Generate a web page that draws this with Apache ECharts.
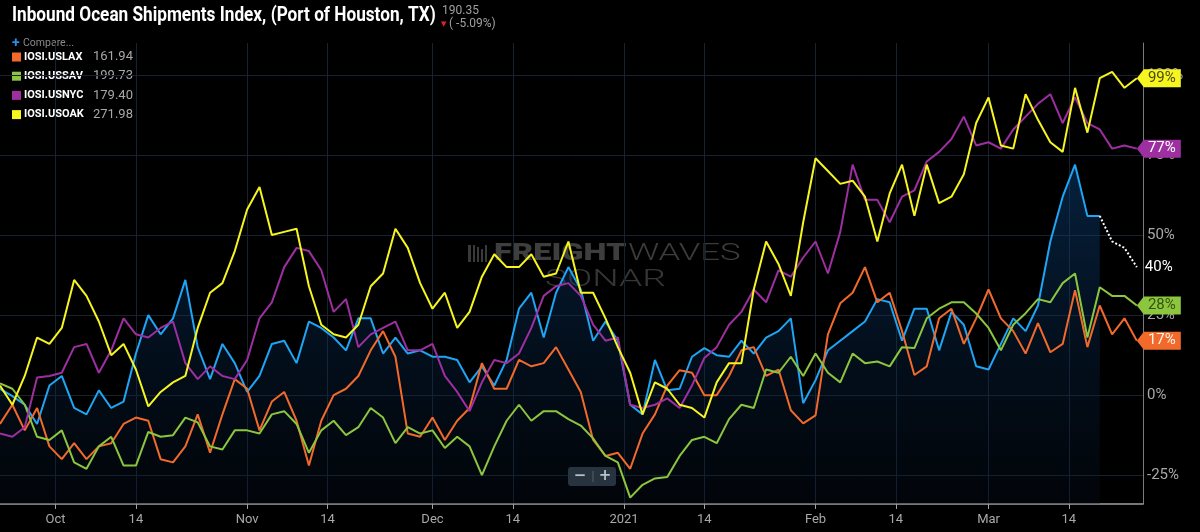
<!DOCTYPE html>
<html>
<head>
<meta charset="utf-8">
<title>Inbound Ocean Shipments Index (Port of Houston, TX)</title>
<script src="https://cdn.jsdelivr.net/npm/echarts@6/dist/echarts.min.js"></script>
<style>
  html, body { margin: 0; background: #000; }
  #main { width: 1200px; height: 532px; }
</style>
</head>
<body>
<div id="main"></div>
<script>
    // axis runs day by day from Sep 22 2020 to Mar 26 2021
    var startDate = Date.UTC(2020, 8, 22);
    var dayCount = 186;
    var sampleStep = 2;

    // % change, Port of Houston (solid part ends Mar 19)
    var houston = [
        2, -0.3, -3, -9, 3, 6, -4, -6, 1.5, -4,
        -2, 13, 25, 19, 24, 36, 15, 5, 16, 10,
        1, 6, 16, 17, 10, 23, 21, 18, 14, 24,
        24, 13, 18, 13, 14, 12, 12, 11, 4, 9,
        3, 11, 27, 32, 18, 32, 40, 33, 17, 23,
        17, -3, -6, 11, 1.5, 2, 12, 14.7, 12.5, 12,
        17, 13, 18, 20, 24, -2.5, 4.7, 14, 17, 20,
        23, 30, 29, 17, 27, 27, 14, 26, 22, 9,
        8, 16, 24, 20, 28, 48, 62, 72, 56, 56
    ];
    // dotted tail from Mar 19 to Mar 25
    var houstonTail = [56, 48, 46, 40];

    var lax = [
        -9, -3, -11, -4, -16, -20, -15, -20, -16, -15,
        -9, -7, -8, -20, -21, -16, -6, -18, -6, 5,
        2, -11, -2, 1, -8, -22, -8, 0, 2, 6,
        14, 20, 12, -12, -13, -7, -14, -8, -4, 10,
        2, 2, 11, 9, 10, 15, 8, 1, -14, -19,
        -18, -23, -12, -6, 3, 7.8, 7, 0, 0, 6,
        14, 15, 6, 8, -4.7, -8.8, -6.3, 19, 28.7, 32,
        40, 29, 32, 20, 6.3, 9, 24, 27, 16, 24,
        33, 24, 20, 13, 22.5, 13.4, 16, 32.8, 15, 28,
        19, 24, 17
    ];
    var sav = [
        3.7, 2, -3, -13, -14, -11, -21, -23, -16, -13,
        -22, -22, -11.5, -13, -12.5, -7, -8.5, -16, -17, -11,
        -11, -12, -6, -5, -9, -18, -11, -8, -12.5, -10,
        -4, -7, -15, -10, -12, -11, -16.5, -13, -16, -25,
        -16, -8, -3, -8, -5, -5, -7.5, -9.5, -13.5, -19,
        -21, -32, -28, -26, -25.6, -19, -14, -13, -15, -7.5,
        -3, -4, 8, 7, 12, 6, 13, 7, 4, 13,
        10, 10.5, 9, 15, 14.7, 24, 27, 29, 29, 25.5,
        21, 14, 22, 25.6, 30, 29, 35, 38, 18, 33.7,
        31, 31, 28
    ];
    var nyc = [
        -12, -13, -10, 5.5, 6, 7, 15, 16, 7, 14,
        24, 19, 18, 21, 23, 10, 5, 9, 6, 5,
        11, 24, 29, 40, 46, 45, 39, 26, 30, 15,
        19, 21, 23, 14, 14, 16, 6, 1, -5, 4,
        11, 10, 13, 21, 31, 34, 35, 31, 22, 17,
        18, -3, -4, -3, -1, -4, 3, 11.6, 15, 22,
        26, 33, 29, 39, 37, 43, 48, 38, 51, 72,
        61, 61, 54, 62, 64, 73, 76, 80, 87, 78,
        79, 77, 83, 87, 91, 94, 85, 93, 85, 83,
        77, 78, 77
    ];
    var oak = [
        3, -3, 6, 18, 16, 21, 36, 31, 23, 12.5,
        16, 8, -3.5, 1, 4, 6, 21, 32, 35, 45,
        58, 65, 50, 51, 52, 34, 22, 19, 18, 22,
        34, 38, 52, 46, 35, 27, 32, 21, 26, 37,
        44, 40, 40, 44, 37, 38, 48, 32, 32, 24,
        15, 7, -6, 4, 2, -3, -4, -7, 4, 10,
        10, 33, 48, 41, 31, 54, 74, 70, 66, 67,
        62, 48, 63, 72, 56, 72, 60, 62, 69, 85,
        93, 78, 77, 94, 86, 79, 76, 96, 82, 99,
        101, 96, 99
    ];

    var legendNames = ['IOSI.USLAX', 'IOSI.USSAV', 'IOSI.USNYC', 'IOSI.USOAK'];
    var legendValues = ['161.94', '199.73', '179.40', '271.98'];
    var lastPrice = '190.35';
    var lastChange = '( -5.09%)';
    var monthLabels = ['2021', 'Feb', 'Mar', 'Apr', 'May', 'Jun', 'Jul', 'Aug', 'Sep', 'Oct', 'Nov', 'Dec'];

    var colors = {
        houston: '#1ea5f4',
        lax: '#f26a2b',
        sav: '#8cc63f',
        nyc: '#9d2fa1',
        oak: '#f6f51f'
    };

    // category list, one per day
    var dates = [];
    for (var i = 0; i < dayCount; i++) {
        dates.push(new Date(startDate + i * 86400000).toISOString().slice(0, 10));
    }

    function pairs(values, firstIndex) {
        return values.map(function (v, k) { return [firstIndex + k * sampleStep, v]; });
    }
    function dayOf(value) { return parseInt(value.slice(8, 10), 10); }
    function isTick(index, value) { var d = dayOf(value); return d === 1 || d === 14; }
    function tickLabel(value) {
        if (dayOf(value) === 14) return '14';
        return monthLabels[parseInt(value.slice(5, 7), 10) - 1];
    }

    var tailStart = (houston.length - 1) * sampleStep;

    function comparison(name, values, color, tagText) {
        var data = pairs(values, 0);
        var last = data[data.length - 1];
        return {
            name: name,
            type: 'line',
            data: data,
            showSymbol: false,
            clip: false,
            lineStyle: { color: color, width: 2 },
            itemStyle: { color: color },
            z: 3,
            markPoint: {
                symbol: 'path://M0,9 L7,0 L44,0 L44,18 L7,18 Z',
                symbolSize: [44, 18],
                symbolOffset: [22, 0],
                itemStyle: { color: color },
                label: {
                    show: true,
                    position: 'inside',
                    offset: [3, 0],
                    color: tagText,
                    fontSize: 15,
                    fontFamily: 'Roboto',
                    formatter: function (p) { return Math.round(p.value) + '%'; }
                },
                data: [{ coord: [last[0], last[1]], value: last[1] }]
            }
        };
    }

    var myChart = echarts.init(document.getElementById('main'));

    var legendGraphics = [];
    legendNames.forEach(function (n, k) {
        var y = 57 + k * 19.2;
        var c = [colors.lax, colors.sav, colors.nyc, colors.oak][k];
        legendGraphics.push(
            { type: 'rect', shape: { x: 12, y: y - 4.5, width: 9, height: 9 }, style: { fill: c } },
            { type: 'text', x: 24, y: y, style: { text: n, fill: '#fff', fontSize: 11, fontWeight: 'bold', fontFamily: 'Roboto', verticalAlign: 'middle' } },
            { type: 'text', x: 93, y: y, style: { text: legendValues[k], fill: '#a8a8a8', fontSize: 13, fontFamily: 'Roboto', verticalAlign: 'middle' } }
        );
    });

    myChart.setOption({
        backgroundColor: '#000',
        animation: false,
        grid: { left: -3, right: 57, top: 43, bottom: 28 },
        xAxis: {
            type: 'category',
            data: dates,
            boundaryGap: false,
            axisLine: { onZero: false, lineStyle: { color: '#a0a0a0', width: 1.5 } },
            axisTick: { show: true, interval: isTick, length: 5, lineStyle: { color: '#a0a0a0' } },
            axisLabel: { interval: isTick, formatter: tickLabel, color: '#a8a8a8', fontSize: 13, fontFamily: 'Roboto', margin: 9 },
            splitLine: { show: true, interval: isTick, lineStyle: { color: '#17222e', width: 1 } }
        },
        yAxis: {
            type: 'value',
            position: 'right',
            min: -34,
            max: 110,
            minInterval: 25,
            maxInterval: 25,
            axisLine: { show: true, lineStyle: { color: '#7a7a7a' } },
            axisTick: { show: false },
            axisLabel: {
                color: '#a8a8a8', fontSize: 15, fontFamily: 'Roboto', margin: 4,
                showMinLabel: false, showMaxLabel: false,
                formatter: function (v) { return v + '%'; }
            },
            splitLine: { show: true, showMinLine: false, showMaxLine: false, lineStyle: { color: '#17222e' } }
        },
        graphic: [
            { type: 'text', x: 12, y: 16, scaleX: 0.86, style: { text: 'Inbound Ocean Shipments Index, (Port of Houston, TX)', fill: '#fff', fontSize: 20, fontWeight: 'bold', fontFamily: 'Roboto', verticalAlign: 'middle' } },
            { type: 'text', x: 442, y: 11, style: { text: lastPrice, fill: '#a0a0a0', fontSize: 12, fontFamily: 'Roboto', verticalAlign: 'middle' } },
            { type: 'text', x: 441, y: 24, style: { text: '▼', fill: '#e8202a', fontSize: 7, fontFamily: 'DejaVu Sans', verticalAlign: 'middle' } },
            { type: 'text', x: 449, y: 24, style: { text: lastChange, fill: '#a0a0a0', fontSize: 12, fontFamily: 'Roboto', verticalAlign: 'middle' } },
            { type: 'text', x: 12, y: 43, style: { text: '+', fill: '#2b8ee6', fontSize: 14, fontWeight: 'bold', fontFamily: 'Roboto', verticalAlign: 'middle' } },
            { type: 'text', x: 23, y: 43, style: { text: 'Compare...', fill: '#8a8a8a', fontSize: 10.5, fontFamily: 'Roboto', verticalAlign: 'middle' } }
        ].concat(legendGraphics).concat([
            // watermark
            {
                type: 'group', z: 1, silent: true,
                children: [
                    { type: 'rect', shape: { x: 468, y: 245, width: 3, height: 17 }, style: { fill: '#3a3a3a' } },
                    { type: 'rect', shape: { x: 473, y: 245, width: 2, height: 17 }, style: { fill: '#3a3a3a' } },
                    { type: 'rect', shape: { x: 477, y: 247, width: 2, height: 15 }, style: { fill: '#3a3a3a' } },
                    { type: 'rect', shape: { x: 481, y: 249, width: 2, height: 13 }, style: { fill: '#3a3a3a' } },
                    { type: 'rect', shape: { x: 485, y: 245, width: 2, height: 17 }, style: { fill: '#3a3a3a' } },
                    { type: 'text', x: 494, y: 254, scaleX: 1.36, style: { text: 'FREIGHT', fill: '#3e3e3e', fontSize: 24, fontWeight: 900, fontFamily: 'Roboto', verticalAlign: 'middle' } },
                    { type: 'text', x: 628, y: 254, scaleX: 1.45, style: { text: 'WAVES', fill: '#3c3c3c', fontSize: 24, fontWeight: 300, fontFamily: 'Roboto', verticalAlign: 'middle' } },
                    { type: 'text', x: 545, y: 280, scaleX: 1.55, style: { text: 'SONAR', fill: '#363636', fontSize: 24, fontWeight: 300, fontFamily: 'Roboto', verticalAlign: 'middle' } }
                ]
            },
            // zoom buttons
            { type: 'rect', z: 10, shape: { x: 568, y: 467, width: 48, height: 19, r: 3 }, style: { fill: '#27333e' } },
            { type: 'line', z: 10, shape: { x1: 593, y1: 471, x2: 593, y2: 482 }, style: { stroke: '#55616c', lineWidth: 1 } },
            { type: 'text', z: 11, x: 580, y: 476, style: { text: '−', fill: '#b9c1c9', fontSize: 15, fontWeight: 'bold', fontFamily: 'DejaVu Sans', align: 'center', verticalAlign: 'middle' } },
            { type: 'text', z: 11, x: 605, y: 476, style: { text: '+', fill: '#b9c1c9', fontSize: 15, fontWeight: 'bold', fontFamily: 'DejaVu Sans', align: 'center', verticalAlign: 'middle' } }
        ]),
        series: [
            {
                name: 'IOSI.USHOU',
                type: 'line',
                data: pairs(houston, 0),
                showSymbol: false,
                lineStyle: { color: colors.houston, width: 2 },
                itemStyle: { color: colors.houston },
                areaStyle: {
                    origin: 'start',
                    color: new echarts.graphic.LinearGradient(0, 0, 0, 1, [
                        { offset: 0, color: 'rgba(14,78,145,0.6)' },
                        { offset: 1, color: 'rgba(6,20,40,0.35)' }
                    ])
                },
                z: 2
            },
            {
                name: 'IOSI.USHOU latest',
                type: 'line',
                data: pairs(houstonTail, tailStart),
                showSymbol: false,
                clip: false,
                lineStyle: { color: '#ffffff', width: 2, type: 'dotted' },
                endLabel: {
                    show: true,
                    distance: 8,
                    color: '#ffffff',
                    fontSize: 15,
                    fontFamily: 'Roboto',
                    formatter: function (p) { return Math.round(p.value[1]) + '%'; }
                },
                z: 3
            },
            comparison('IOSI.USLAX', lax, colors.lax, '#fff4ec'),
            comparison('IOSI.USSAV', sav, colors.sav, '#35520f'),
            comparison('IOSI.USNYC', nyc, colors.nyc, '#ffffff'),
            comparison('IOSI.USOAK', oak, colors.oak, '#4a4a10')
        ]
    });
</script>
</body>
</html>
